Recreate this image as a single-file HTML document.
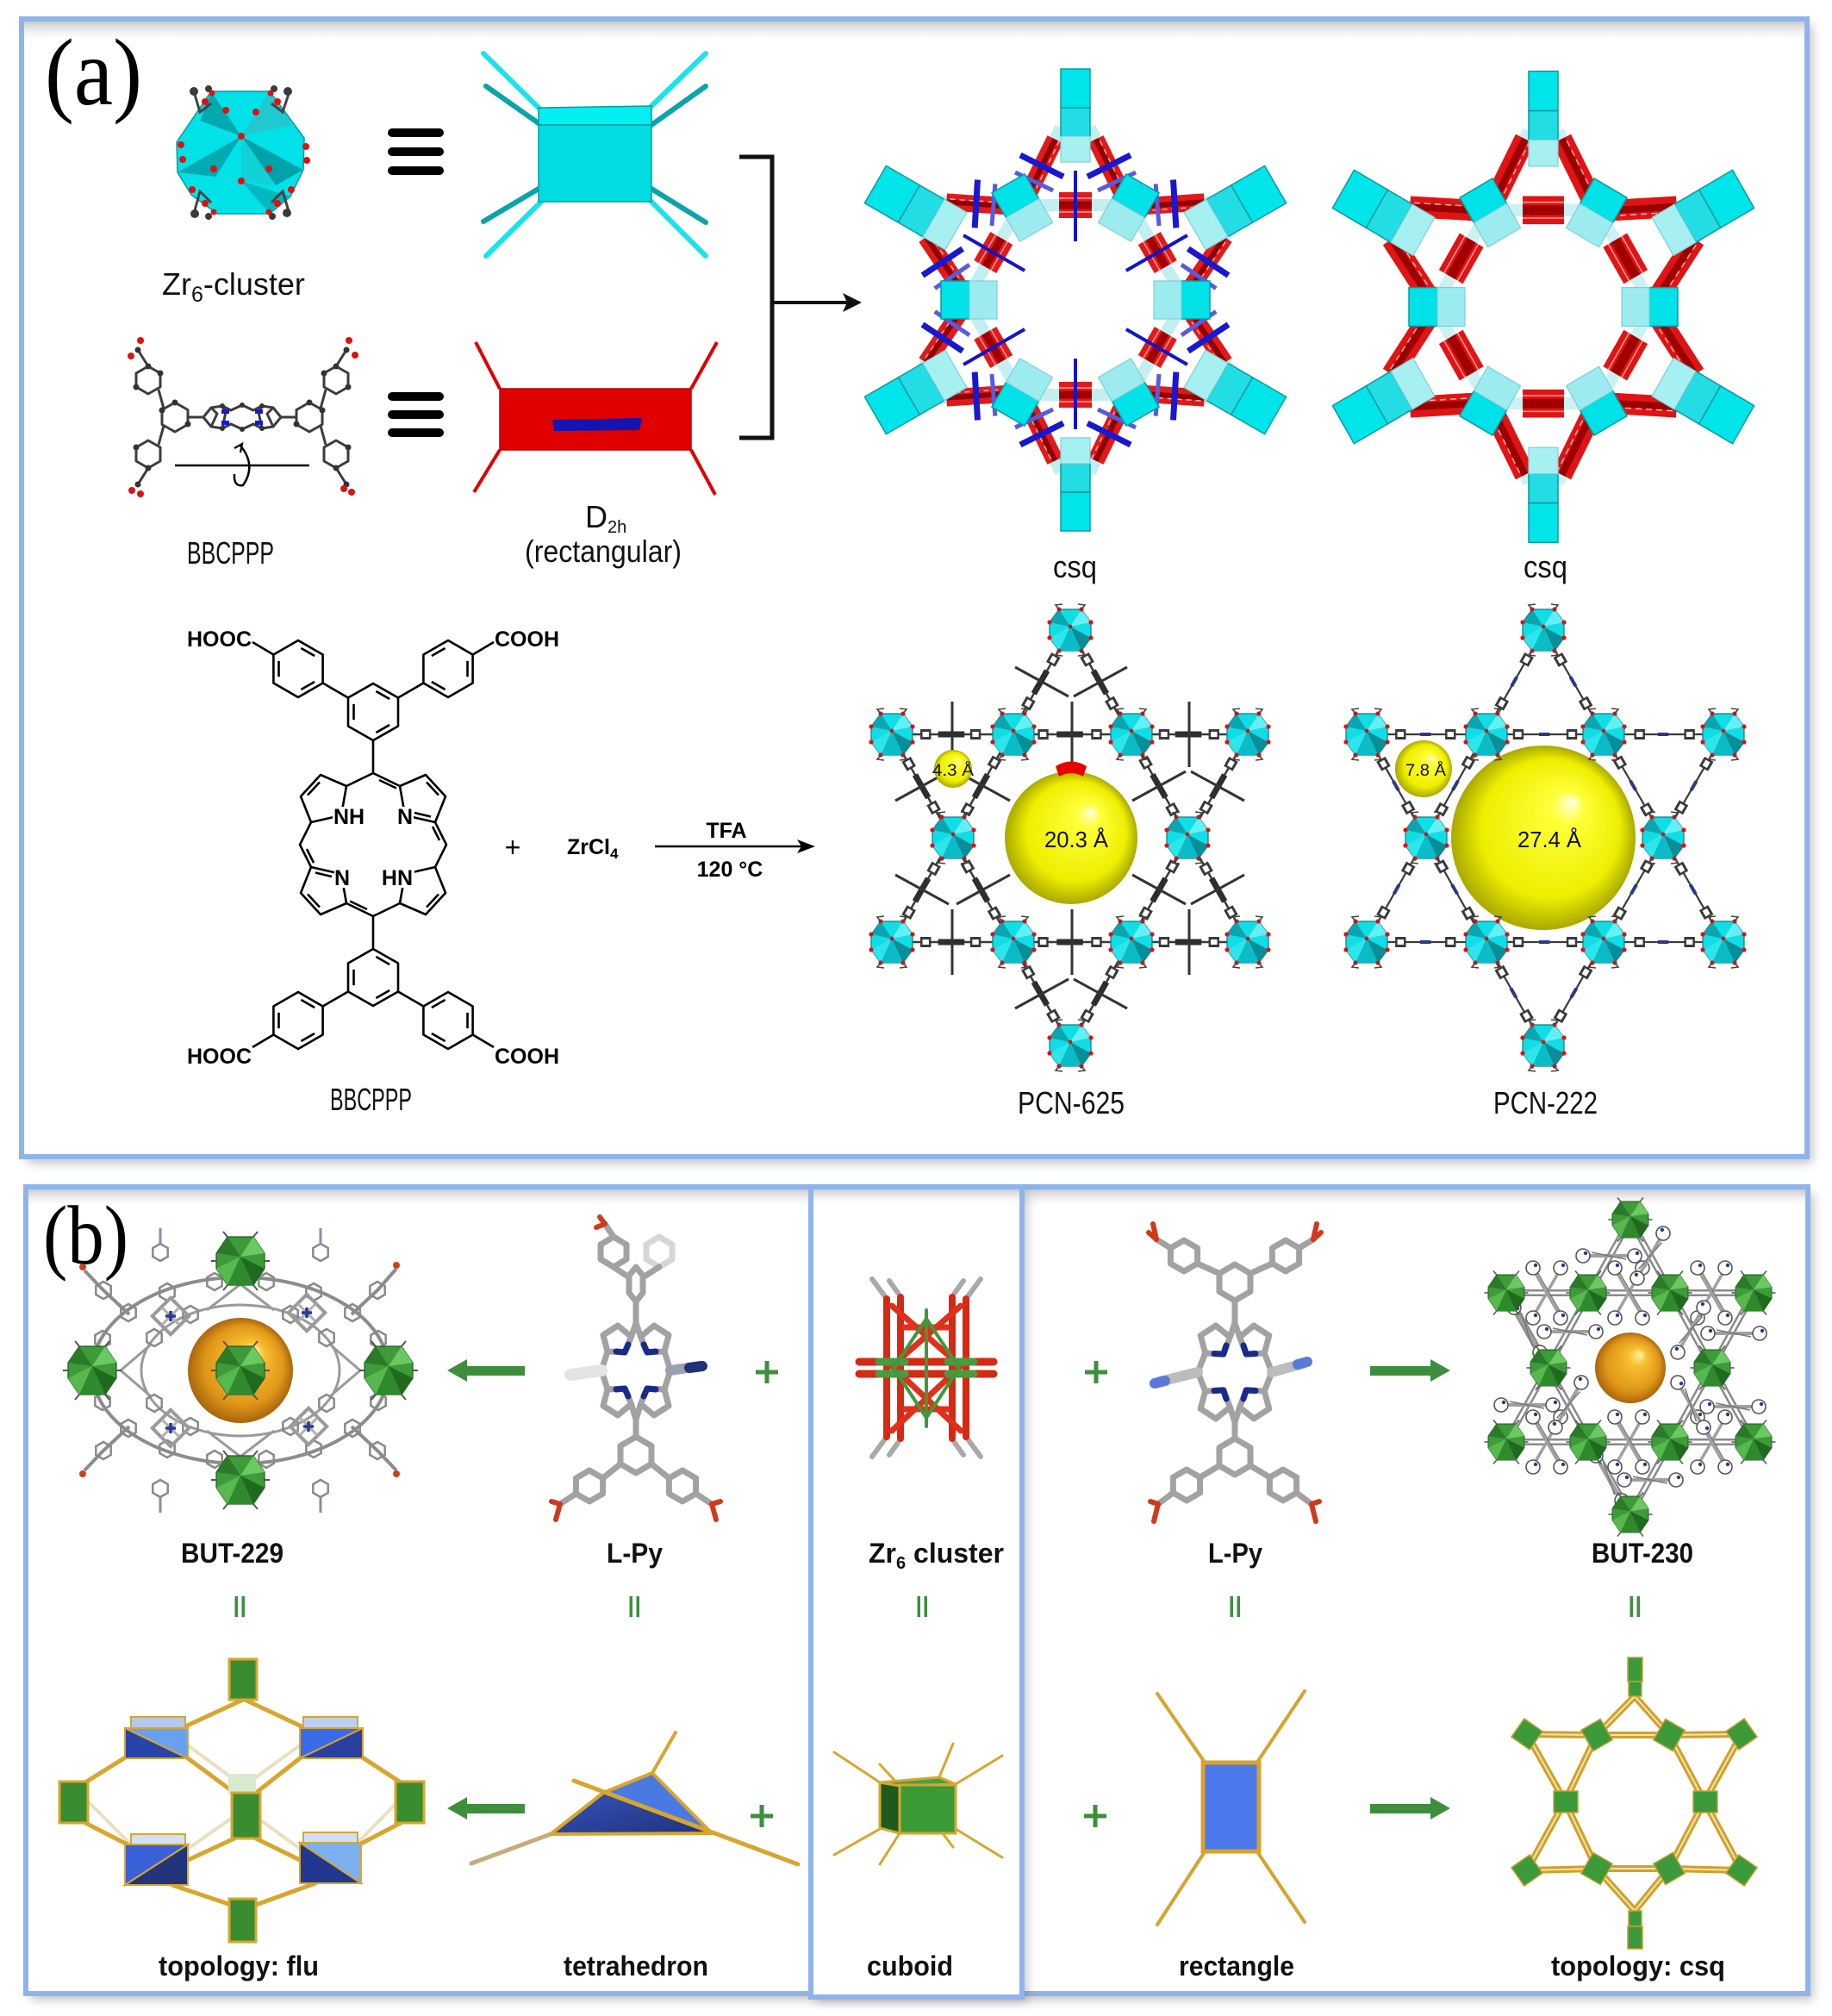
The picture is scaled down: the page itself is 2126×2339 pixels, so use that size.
<!DOCTYPE html>
<html><head><meta charset="utf-8">
<style>
html,body{margin:0;padding:0;background:#fff;}
svg{display:block;}
text{font-family:"Liberation Sans","DejaVu Sans",sans-serif;}
.serif{font-family:"Liberation Serif","DejaVu Serif",serif;}
.lb{font-weight:bold;font-size:32px;fill:#111;}
.ch{font-weight:bold;font-size:25px;fill:#000;}
.hw{font-size:36px;fill:#111;}
</style></head><body>
<svg xmlns="http://www.w3.org/2000/svg" width="2126" height="2339" viewBox="0 0 2126 2339">
<defs>
 <filter id="blur" x="-5%" y="-5%" width="110%" height="110%"><feGaussianBlur stdDeviation="6"/></filter>
 <linearGradient id="topsh" x1="0" y1="0" x2="0" y2="1"><stop offset="0" stop-color="#c9c9c9"/><stop offset="1" stop-color="#ffffff" stop-opacity="0"/></linearGradient>
 <radialGradient id="ysph" cx="0.5" cy="0.5" r="0.5" fx="0.66" fy="0.3"><stop offset="0" stop-color="#ffffe6"/><stop offset="0.18" stop-color="#ffff3a"/><stop offset="0.75" stop-color="#eeee00"/><stop offset="1" stop-color="#a9a900"/></radialGradient>
 <radialGradient id="osph" cx="0.5" cy="0.5" r="0.5" fx="0.64" fy="0.3"><stop offset="0" stop-color="#fff3b0"/><stop offset="0.25" stop-color="#f8bf30"/><stop offset="0.75" stop-color="#e09618"/><stop offset="1" stop-color="#a9660c"/></radialGradient>
 <linearGradient id="tdark" x1="0" y1="0" x2="1" y2="1"><stop offset="0" stop-color="#3454b8"/><stop offset="1" stop-color="#22307e"/></linearGradient>

 <g id="zrc">
  <polygon points="-13,-24 13,-24 24,-9 24,9 13,24 -13,24 -24,9 -24,-9" fill="#12dce4" stroke="#0b7f88" stroke-width="1.2"/>
  <polygon points="-13,-24 0,-4 -24,-9" fill="#0aa5b0"/>
  <polygon points="13,-24 24,-9 0,-4" fill="#62f0f4"/>
  <polygon points="0,-4 24,9 13,24" fill="#078e98"/>
  <polygon points="0,-4 -13,24 -24,9" fill="#2ce6ec"/>
  <polygon points="0,-4 13,24 -13,24" fill="#0bbcc6"/>
  <g fill="#e01010"><circle cx="-13" cy="-24" r="2.6"/><circle cx="13" cy="-24" r="2.6"/><circle cx="24" cy="-9" r="2.6"/><circle cx="24" cy="9" r="2.6"/><circle cx="13" cy="24" r="2.6"/><circle cx="-13" cy="24" r="2.6"/><circle cx="-24" cy="9" r="2.6"/><circle cx="-24" cy="-9" r="2.6"/><circle cx="0" cy="-4" r="2.4"/></g>
  <path d="M-13,-24 L-17,-29 L-9,-30 M13,-24 L17,-29 L9,-30 M-13,24 L-17,29 L-9,30 M13,24 L17,29 L9,30" stroke="#444" stroke-width="1.6" fill="none"/>
 </g>

 <g id="gcl">
  <polygon points="-15,-28 15,-28 28,-9 28,9 15,28 -15,28 -28,9 -28,-9" fill="#3d9b3a" stroke="#1e5a1e" stroke-width="1.2"/>
  <polygon points="-15,-28 0,-5 -28,-9" fill="#2a7a28"/>
  <polygon points="15,-28 28,-9 0,-5" fill="#6cc860"/>
  <polygon points="0,-5 28,9 15,28" fill="#1f6a1f"/>
  <polygon points="0,-5 -15,28 -28,9" fill="#58b850"/>
  <polygon points="0,-5 15,28 -15,28" fill="#2f8a2d"/>
  <path d="M-15,-28 L-20,-34 M15,-28 L20,-34 M-15,28 L-20,34 M15,28 L20,34 M-28,0 L-34,0 M28,0 L34,0" stroke="#555" stroke-width="2"/>
 </g>

 <path id="hx" d="M0,-10 L8.7,-5 L8.7,5 L0,10 L-8.7,5 L-8.7,-5 Z" fill="none" stroke="#8a8a8a" stroke-width="2.5"/>
 <path id="hxs" d="M0,-8 L7,-4 L7,4 L0,8 L-7,4 L-7,-4 Z" fill="#fff" stroke="#666" stroke-width="1.6"/>
 <g id="rg"><circle r="8" fill="#fff" stroke="#555" stroke-width="1.6"/><circle cx="3" cy="-3" r="2.2" fill="#2a3a8a"/></g>
 <g id="xh"><path d="M-26,0 L26,0" stroke="#a0a0a0" stroke-width="4"/><path d="M-20,-4 L20,4" stroke="#777" stroke-width="1.5"/><use href="#rg" x="-30" y="0"/><use href="#rg" x="30" y="0"/></g>
 <g id="xx"><path d="M-15,-26 L15,26 M15,-26 L-15,26" stroke="#a0a0a0" stroke-width="3.5"/><path d="M-12,-26 L18,26" stroke="#777" stroke-width="1.3"/><use href="#rg" x="-16" y="-29"/><use href="#rg" x="16" y="-29"/><use href="#rg" x="-16" y="29"/><use href="#rg" x="16" y="29"/></g>

 <g id="triA">
  <path d="M-17,-200 L-61,-112 M17,-200 L61,-112 M-61,-110 L61,-110" stroke="#55d0d8" stroke-width="14" stroke-opacity="0.35" fill="none"/>
  <path d="M-23.6,-186.5 L-54.4,-123.5 M23.6,-186.5 L54.4,-123.5" stroke="#e01a1a" stroke-width="20" fill="none"/>
  <path d="M-23.6,-186.5 L-54.4,-123.5 M23.6,-186.5 L54.4,-123.5" stroke="#8e0000" stroke-width="6" fill="none"/>
  <path d="M-23.6,-186.5 L-54.4,-123.5 M23.6,-186.5 L54.4,-123.5" stroke="#ffb0b0" stroke-width="1.5" stroke-dasharray="6 5" fill="none" transform="translate(5,2)"/>
  <path d="M-19,-110 L19,-110" stroke="#e01a1a" stroke-width="30"/>
  <path d="M-19,-110 L19,-110" stroke="#a00000" stroke-width="9"/>
  <path d="M-19,-118 L19,-118 M-19,-102 L19,-102" stroke="#ff9a9a" stroke-width="1.5"/>
  <path d="M0,-150 L0,-68" stroke="#1414c8" stroke-width="4"/>
  <path d="M-64,-168 L-14,-143 M64,-168 L14,-143" stroke="#1818d0" stroke-width="7"/>
  <path d="M-70,-148 L-26,-127 M70,-148 L26,-127" stroke="#5a5ae0" stroke-width="5"/>
 </g>
 <g id="triB">
  <path d="M-17,-200 L-61,-112 M17,-200 L61,-112 M-61,-110 L61,-110" stroke="#55d0d8" stroke-width="14" stroke-opacity="0.3" fill="none"/>
  <path d="M-21.4,-191 L-56.6,-121 M21.4,-191 L56.6,-121" stroke="#e01414" stroke-width="24" fill="none"/>
  <path d="M-21.4,-191 L-56.6,-121 M21.4,-191 L56.6,-121" stroke="#9a0000" stroke-width="8" fill="none"/>
  <path d="M-21.4,-191 L-56.6,-121 M21.4,-191 L56.6,-121" stroke="#ffb0b0" stroke-width="1.5" stroke-dasharray="7 5" fill="none" transform="translate(6,2)"/>
  <path d="M-24,-110 L24,-110" stroke="#e01414" stroke-width="32"/>
  <path d="M-24,-110 L24,-110" stroke="#a00000" stroke-width="11"/>
  <path d="M-24,-119 L24,-119 M-24,-101 L24,-101" stroke="#ff9a9a" stroke-width="1.5"/>
 </g>
 <g id="nO">
  <rect x="-17" y="-268" width="34" height="45" fill="#00e5ea" stroke="#0a9aa0" stroke-width="1.5"/>
  <rect x="-17" y="-223" width="34" height="33" fill="#22dde3" stroke="#0a9aa0" stroke-width="1.5"/>
  <rect x="-17" y="-190" width="34" height="30" fill="#a6f0f2" stroke="#7cd0d4" stroke-width="1.2"/>
 </g>
 <g id="nW">
  <rect x="-25" y="-268" width="50" height="45" fill="#00e5ea" stroke="#0a9aa0" stroke-width="1.5"/>
  <rect x="-25" y="-223" width="50" height="33" fill="#22dde3" stroke="#0a9aa0" stroke-width="1.5"/>
  <rect x="-25" y="-190" width="50" height="30" fill="#a6f0f2" stroke="#7cd0d4" stroke-width="1.2"/>
 </g>
 <g id="nI">
  <rect x="-22" y="-156" width="44" height="33" fill="#00e2e8" stroke="#0a9aa0" stroke-width="1.5"/>
  <rect x="-22" y="-123" width="44" height="32" fill="#9cecef" stroke="#7cd0d4" stroke-width="1.2"/>
 </g>
 <g id="por">
  <rect x="-15" y="-15" width="30" height="30" transform="rotate(45)" fill="none" stroke="#9a9a9a" stroke-width="4"/>
  <path d="M-10,-10 L10,10 M10,-10 L-10,10" stroke="#b0b0b0" stroke-width="3"/>
  <path d="M-6,0 L6,0 M0,-6 L0,6" stroke="#2a3a9a" stroke-width="3.5"/>
 </g>
</defs>

<!-- ================= FRAMES ================= -->
<rect x="31" y="29" width="2072" height="1320" fill="#000" opacity="0.25" filter="url(#blur)"/>
<rect x="25" y="22" width="2072" height="1320" fill="#fff" stroke="#8fb4ec" stroke-width="6"/>
<rect x="28" y="25" width="2066" height="24" fill="url(#topsh)"/>

<rect x="36" y="1384" width="2068" height="936" fill="#000" opacity="0.25" filter="url(#blur)"/>
<rect x="30" y="1377" width="2068" height="936" fill="#fff" stroke="#8fb4ec" stroke-width="6"/>
<rect x="33" y="1380" width="2062" height="22" fill="url(#topsh)"/>

<rect x="947" y="1383" width="245" height="940" fill="#000" opacity="0.22" filter="url(#blur)"/>
<rect x="941" y="1377" width="245" height="940" fill="#fff" stroke="#8fb4ec" stroke-width="6"/>
<rect x="944" y="1380" width="239" height="20" fill="url(#topsh)"/>

<!-- ================= PANEL (a) ================= -->
<text class="serif" x="52" y="121" font-size="110" textLength="113" lengthAdjust="spacingAndGlyphs" fill="#000">(a)</text>

<!-- Zr6 cluster icon -->
<g>
 <polygon points="245,106 313,106 353,160 352,197 337,228 313,248 252,248 222,226 206,200 205,165" fill="#00e2e8" stroke="#0a9aa0" stroke-width="1.5"/>
 <polygon points="245,106 280,158 232,140" fill="#00a8b0"/>
 <polygon points="313,106 340,145 280,158" fill="#20c8d0"/>
 <polygon points="280,158 352,197 320,215" fill="#00a2aa"/>
 <polygon points="280,158 250,205 206,200" fill="#00aab2"/>
 <polygon points="280,210 313,248 337,228" fill="#00b8c0"/>
 <polygon points="280,158 280,210 320,215" fill="#10d0d8"/>
 <path d="M225,106 L232,130 L245,120 M336,106 L328,130 L315,120 M225,248 L232,222 L245,235 M336,248 L328,222 L315,235" stroke="#444" stroke-width="3" fill="none"/>
 <g fill="#3a3a3a"><circle cx="225" cy="106" r="5"/><circle cx="242" cy="103" r="4"/><circle cx="318" cy="103" r="4"/><circle cx="334" cy="106" r="5"/><circle cx="226" cy="248" r="5"/><circle cx="242" cy="251" r="4"/><circle cx="316" cy="251" r="4"/><circle cx="333" cy="247" r="5"/></g>
 <g fill="#e01010"><circle cx="262" cy="128" r="4"/><circle cx="297" cy="130" r="4"/><circle cx="280" cy="158" r="4"/><circle cx="248" cy="196" r="4"/><circle cx="312" cy="196" r="4"/><circle cx="280" cy="210" r="4"/><circle cx="210" cy="168" r="4"/><circle cx="212" cy="185" r="4"/><circle cx="355" cy="170" r="4"/><circle cx="356" cy="186" r="4"/><circle cx="238" cy="118" r="4"/><circle cx="322" cy="118" r="4"/><circle cx="238" cy="236" r="4"/><circle cx="322" cy="236" r="4"/><circle cx="223" cy="220" r="4"/><circle cx="338" cy="220" r="4"/><circle cx="246" cy="108" r="3.5"/><circle cx="314" cy="108" r="3.5"/><circle cx="248" cy="246" r="3.5"/><circle cx="312" cy="246" r="3.5"/></g>
</g>
<text class="hw" x="188" y="342" font-size="38">Zr<tspan font-size="25" dy="8">6</tspan><tspan dy="-8">-cluster</tspan></text>

<!-- equivalence bars -->
<path d="M455,154 L510,154 M455,176 L510,176 M455,198 L510,198 M455,460 L510,460 M455,481 L510,481 M455,502 L510,502" stroke="#000" stroke-width="10" stroke-linecap="round"/>

<!-- cyan cuboid -->
<g stroke-linecap="round">
 <path d="M625,125 L561,62 M756,123 L819,62 M628,234 L564,297 M756,234 L819,297" stroke="#18e4ea" stroke-width="6"/>
 <path d="M625,143 L564,100 M756,145 L819,100 M625,219 L561,257 M756,219 L819,258" stroke="#0aa4aa" stroke-width="6"/>
 <polygon points="625,125 756,123 756,145 625,145" fill="#00f0f2" stroke="#079a9f" stroke-width="1.5"/>
 <rect x="625" y="145" width="131" height="89" fill="#00dde2" stroke="#079a9f" stroke-width="1.5"/>
</g>

<!-- red rectangle D2h -->
<path d="M580,451 L552,397 M802,451 L832,397 M580,522 L550,571 M802,522 L830,574" stroke="#e00000" stroke-width="4"/>
<rect x="580" y="451" width="222" height="71" fill="#e00000" stroke="#b80000" stroke-width="1.5"/>
<polygon points="641,487 745,485 742,499 643,500" fill="#1414b0"/>

<!-- small BBCPPP 3D molecule -->
<g stroke="#3c3c3c" stroke-width="3" fill="none" stroke-linejoin="round">
 <path d="M203,467 L218,475.5 L218,492.5 L203,501 L188,492.5 L188,475.5 Z"/>
 <path d="M172,425 L186,433 L186,449 L172,457 L158,449 L158,433 Z"/>
 <path d="M190,474 L184,452 M172,425 L160,406"/>
 <path d="M172,511 L186,519 L186,535 L172,543 L158,535 L158,519 Z"/>
 <path d="M190,494 L184,516 M172,543 L160,562"/>
 <path d="M218,484 L236,484"/>
 <path d="M236,484 L245,473 L258,471 L268,476 L281,470 L294,476 L304,471 L317,473 L326,484 L317,495 L304,497 L294,492 L281,498 L268,492 L258,497 L245,495 Z"/>
 <path d="M245,473 L252,480 L245,495 M317,473 L310,480 L317,495 M258,471 L262,478 L258,497 M304,471 L300,478 L304,497"/>
 <path d="M359,467 L374,475.5 L374,492.5 L359,501 L344,492.5 L344,475.5 Z"/>
 <path d="M390,425 L404,433 L404,449 L390,457 L376,449 L376,433 Z"/>
 <path d="M372,474 L378,452 M390,425 L402,406"/>
 <path d="M390,511 L404,519 L404,535 L390,543 L376,535 L376,519 Z"/>
 <path d="M372,494 L378,516 M390,543 L402,562"/>
 <path d="M344,484 L326,484"/>
</g>
<g fill="#333"><circle cx="203" cy="467" r="3.5"/><circle cx="218" cy="492" r="3.5"/><circle cx="188" cy="476" r="3.5"/><circle cx="172" cy="425" r="3.5"/><circle cx="158" cy="449" r="3.5"/><circle cx="186" cy="433" r="3.5"/><circle cx="172" cy="543" r="3.5"/><circle cx="158" cy="519" r="3.5"/><circle cx="359" cy="467" r="3.5"/><circle cx="344" cy="492" r="3.5"/><circle cx="374" cy="476" r="3.5"/><circle cx="390" cy="425" r="3.5"/><circle cx="404" cy="449" r="3.5"/><circle cx="376" cy="433" r="3.5"/><circle cx="390" cy="543" r="3.5"/><circle cx="404" cy="519" r="3.5"/><circle cx="160" cy="406" r="3.5"/><circle cx="402" cy="406" r="3.5"/><circle cx="160" cy="562" r="3.5"/><circle cx="402" cy="562" r="3.5"/><circle cx="258" cy="471" r="3"/><circle cx="304" cy="471" r="3"/><circle cx="258" cy="497" r="3"/><circle cx="304" cy="497" r="3"/><circle cx="281" cy="470" r="3"/><circle cx="281" cy="498" r="3"/></g>
<g fill="#e01010"><circle cx="163" cy="395" r="4"/><circle cx="152" cy="413" r="4"/><circle cx="153" cy="569" r="4"/><circle cx="163" cy="573" r="4"/><circle cx="405" cy="395" r="4"/><circle cx="412" cy="412" r="4"/><circle cx="408" cy="571" r="4"/><circle cx="399" cy="567" r="4"/></g>
<g fill="#1818d8"><rect x="257" y="475" width="9" height="5"/><rect x="257" y="488" width="9" height="5"/><rect x="296" y="475" width="9" height="5"/><rect x="296" y="488" width="9" height="5"/></g>
<path d="M203,540 L359,540" stroke="#000" stroke-width="2.5"/>
<path d="M279,517 Q298,540 282,563 Q271,565 272,550" stroke="#000" stroke-width="2.5" fill="none"/>
<path d="M272,520 L281,515 L279,525" stroke="#000" stroke-width="2.2" fill="none"/>
<text class="hw" x="217" y="654" font-size="34" textLength="101" lengthAdjust="spacingAndGlyphs">BBCPPP</text>
<text class="hw" x="679" y="612" font-size="33">D<tspan font-size="20" dy="6">2h</tspan></text>
<text class="hw" x="609" y="652" font-size="34" textLength="182" lengthAdjust="spacingAndGlyphs">(rectangular)</text>

<!-- bracket & arrow -->
<path d="M858,182 L896,182 L896,508 L858,508" stroke="#111" stroke-width="5" fill="none"/>
<path d="M896,351 L985,351" stroke="#111" stroke-width="4"/>
<polygon points="1000,351 978,340 983,351 978,362" fill="#111"/>

<!-- csq framework left -->
<g transform="translate(1248,348)">
 <use href="#triA"/><use href="#triA" transform="rotate(60)"/><use href="#triA" transform="rotate(120)"/><use href="#triA" transform="rotate(180)"/><use href="#triA" transform="rotate(240)"/><use href="#triA" transform="rotate(300)"/>
 <use href="#nO"/><use href="#nO" transform="rotate(180)"/>
 <use href="#nW" transform="rotate(60)"/><use href="#nW" transform="rotate(120)"/><use href="#nW" transform="rotate(240)"/><use href="#nW" transform="rotate(300)"/>
 <use href="#nI" transform="rotate(30)"/><use href="#nI" transform="rotate(90)"/><use href="#nI" transform="rotate(150)"/><use href="#nI" transform="rotate(210)"/><use href="#nI" transform="rotate(270)"/><use href="#nI" transform="rotate(330)"/>
</g>
<!-- csq framework right -->
<g transform="translate(1791,356) scale(1,1.02)">
 <use href="#triB"/><use href="#triB" transform="rotate(60)"/><use href="#triB" transform="rotate(120)"/><use href="#triB" transform="rotate(180)"/><use href="#triB" transform="rotate(240)"/><use href="#triB" transform="rotate(300)"/>
 <use href="#nO"/><use href="#nO" transform="rotate(180)"/>
 <use href="#nW" transform="rotate(60)"/><use href="#nW" transform="rotate(120)"/><use href="#nW" transform="rotate(240)"/><use href="#nW" transform="rotate(300)"/>
 <use href="#nI" transform="rotate(30)"/><use href="#nI" transform="rotate(90)"/><use href="#nI" transform="rotate(150)"/><use href="#nI" transform="rotate(210)"/><use href="#nI" transform="rotate(270)"/><use href="#nI" transform="rotate(330)"/>
</g>
<text class="hw" x="1222" y="670" font-size="36" textLength="51" lengthAdjust="spacingAndGlyphs">csq</text>
<text class="hw" x="1768" y="670" font-size="36" textLength="51" lengthAdjust="spacingAndGlyphs">csq</text>

<!-- BBCPPP chemical structure -->
<g stroke="#000" stroke-width="2.6" fill="none" stroke-linejoin="round">
 <path d="M433,793 L462,809.5 L462,842.5 L433,859 L404,842.5 L404,809.5 Z"/>
 <path d="M374.6,792.5 L374.6,759.5 L346,743 L317.4,759.5 L317.4,792.5 L346,809 Z"/>
 <path d="M491.4,792.5 L491.4,759.5 L520,743 L548.6,759.5 L548.6,792.5 L520,809 Z"/>
 <path d="M433,1167 L462,1150.5 L462,1117.5 L433,1101 L404,1117.5 L404,1150.5 Z"/>
 <path d="M374.6,1167.5 L374.6,1200.5 L346,1217 L317.4,1200.5 L317.4,1167.5 L346,1151 Z"/>
 <path d="M491.4,1167.5 L491.4,1200.5 L520,1217 L548.6,1200.5 L548.6,1167.5 L520,1151 Z"/>
 <path d="M404,809.5 L374.6,792.5 M462,809.5 L491.4,792.5 M433,859 L433,897 M317.4,759.5 L293,745 M548.6,759.5 L573,745"/>
 <path d="M404,1150.5 L374.6,1167.5 M462,1150.5 L491.4,1167.5 M433,1101 L433,1063 M317.4,1200.5 L293,1215 M548.6,1200.5 L573,1215"/>
 <path d="M433,800 L455.5,813 L455.5,839 L433,852 L410.5,839 L410.5,813 Z" pathLength="6" stroke-dasharray="0.7 1.3" stroke-dashoffset="1.85"/>
 <path d="M368.5,763 L346,750 L323.5,763 L323.5,789 L346,802 L368.5,789 Z" pathLength="6" stroke-dasharray="0.7 1.3" stroke-dashoffset="1.85"/>
 <path d="M497.5,763 L520,750 L542.5,763 L542.5,789 L520,802 L497.5,789 Z" pathLength="6" stroke-dasharray="0.7 1.3" stroke-dashoffset="1.85"/>
 <path d="M433,1160 L455.5,1147 L455.5,1121 L433,1108 L410.5,1121 L410.5,1147 Z" pathLength="6" stroke-dasharray="0.7 1.3" stroke-dashoffset="1.85"/>
 <path d="M368.5,1197 L346,1210 L323.5,1197 L323.5,1171 L346,1158 L368.5,1171 Z" pathLength="6" stroke-dasharray="0.7 1.3" stroke-dashoffset="1.85"/>
 <path d="M497.5,1197 L520,1210 L542.5,1197 L542.5,1171 L520,1158 L497.5,1171 Z" pathLength="6" stroke-dasharray="0.7 1.3" stroke-dashoffset="1.85"/>
 <path d="M433,897 L402,912 L372,899 L349,924 L361,954 L348,980 L361,1006 L349,1036 L372,1061 L402,1048 L433,1063 L464,1048 L494,1061 L517,1036 L505,1006 L518,980 L505,954 L517,924 L494,899 L464,912 Z"/>
 <path d="M402,912 L396,946 L361,954 M464,912 L470,946 L505,954 M402,1048 L396,1014 L361,1006 M464,1048 L470,1014 L505,1006"/>
 <path d="M371,907.5 L357,922.5 M495,907.5 L509,922.5 M371,1052.5 L357,1037.5 M495,1052.5 L509,1037.5 M440,905 L460,914.5 M356,985 L364,1001 M510,975 L502,959 M426,1055 L406,1045.5 M481,943 L500,947.5 M385,1017 L366,1012.5"/>
</g>
<g fill="#fff"><rect x="386" y="936" width="39" height="22"/><rect x="461" y="936" width="19" height="22"/><rect x="388" y="1008" width="19" height="22"/><rect x="439" y="1008" width="42" height="22"/></g>
<text class="ch" x="387" y="956" font-size="24">NH</text>
<text class="ch" x="470" y="956" font-size="24" text-anchor="middle">N</text>
<text class="ch" x="397" y="1027" font-size="24" text-anchor="middle">N</text>
<text class="ch" x="479" y="1027" font-size="24" text-anchor="end">HN</text>
<text class="ch" x="292" y="750" text-anchor="end">HOOC</text>
<text class="ch" x="574" y="750">COOH</text>
<text class="ch" x="292" y="1234" text-anchor="end">HOOC</text>
<text class="ch" x="574" y="1234">COOH</text>
<text class="hw" x="383" y="1288" font-size="33" textLength="95" lengthAdjust="spacingAndGlyphs">BBCPPP</text>

<!-- reaction -->
<text x="595" y="994" font-size="32" text-anchor="middle" fill="#000">+</text>
<text class="ch" x="658" y="991">ZrCl<tspan font-size="17" dy="5">4</tspan></text>
<path d="M760,982 L930,982" stroke="#000" stroke-width="2.5"/>
<polygon points="946,982 925,974 930,982 925,990" fill="#000"/>
<text class="ch" x="843" y="972" text-anchor="middle">TFA</text>
<text class="ch" x="847" y="1017" text-anchor="middle" font-size="26">120 °C</text>

<!-- PCN-625 -->
<g fill="none">
 <path d="M1242,731 L1035,1093 L1448,1093 Z M1035,852 L1448,852 L1242,1213 Z" stroke="#3a3a3a" stroke-width="2.5"/>
 <g stroke="#3a3a3a" stroke-width="12" stroke-dasharray="0 8 3 11 3 16 3 12 3 16 3 11 3 100">
  <path pathLength="100" d="M1242,731 L1035,1093"/><path pathLength="100" d="M1242,731 L1448,1093"/><path pathLength="100" d="M1035,1093 L1448,1093"/>
  <path pathLength="100" d="M1035,852 L1448,852"/><path pathLength="100" d="M1035,852 L1242,1213"/><path pathLength="100" d="M1448,852 L1242,1213"/>
 </g>
 <g stroke="#fff" stroke-width="6" stroke-dasharray="0 8.6 1.8 12.2 1.8 17.2 1.8 13.2 1.8 17.2 1.8 12.2 1.8 100">
  <path pathLength="100" d="M1242,731 L1035,1093"/><path pathLength="100" d="M1242,731 L1448,1093"/><path pathLength="100" d="M1035,1093 L1448,1093"/>
  <path pathLength="100" d="M1035,852 L1448,852"/><path pathLength="100" d="M1035,852 L1242,1213"/><path pathLength="100" d="M1448,852 L1242,1213"/>
 </g>
 <g stroke="#2e2e2e" stroke-width="7" stroke-dasharray="0 13 7.4 25.9 7.4 25.9 7.4 100">
  <path pathLength="100" d="M1242,731 L1035,1093"/><path pathLength="100" d="M1242,731 L1448,1093"/><path pathLength="100" d="M1035,1093 L1448,1093"/>
  <path pathLength="100" d="M1035,852 L1448,852"/><path pathLength="100" d="M1035,852 L1242,1213"/><path pathLength="100" d="M1448,852 L1242,1213"/>
 </g>
 <path d="M1105,814 L1105,890 M1244,814 L1244,890 M1380,814 L1380,890 M1105,1055 L1105,1131 M1244,1055 L1244,1131 M1380,1055 L1380,1131 M1178,774 L1240,808 M1110,895 L1172,929 M1039,1015 L1101,1049 M1382,895 L1444,929 M1314,1015 L1376,1049 M1246,1136 L1308,1170 M1246,808 L1308,774 M1314,929 L1376,895 M1382,1049 L1444,1015 M1039,929 L1101,895 M1110,1049 L1172,1015 M1178,1170 L1240,1136" stroke="#333" stroke-width="3"/>
</g>
<circle cx="1106" cy="892" r="22" fill="url(#ysph)"/>
<circle cx="1243" cy="972" r="77" fill="url(#ysph)"/>
<path d="M1225,889 Q1243,878 1261,889 L1257,901 Q1243,893 1229,901 Z" fill="#e80000"/>
<g>
 <use href="#zrc" x="1242" y="731"/><use href="#zrc" x="1242" y="1213"/>
 <use href="#zrc" x="1035" y="852"/><use href="#zrc" x="1176" y="852"/><use href="#zrc" x="1313" y="852"/><use href="#zrc" x="1448" y="852"/>
 <use href="#zrc" x="1035" y="1093"/><use href="#zrc" x="1176" y="1093"/><use href="#zrc" x="1313" y="1093"/><use href="#zrc" x="1448" y="1093"/>
 <use href="#zrc" x="1106" y="972"/><use href="#zrc" x="1378" y="972"/>
</g>
<text x="1082" y="900" font-size="19" textLength="48" lengthAdjust="spacingAndGlyphs" fill="#111">4.3 Å</text>
<text x="1212" y="983" font-size="26" textLength="74" lengthAdjust="spacingAndGlyphs" fill="#111">20.3 Å</text>

<!-- PCN-222 -->
<g fill="none">
 <path d="M1791,731 L1586,1093 L2000,1093 Z M1586,852 L2000,852 L1791,1213 Z" stroke="#3a3a3a" stroke-width="2.2"/>
 <g stroke="#3a3a3a" stroke-width="12" stroke-dasharray="0 8 3 11 3 16 3 12 3 16 3 11 3 100">
  <path pathLength="100" d="M1791,731 L1586,1093"/><path pathLength="100" d="M1791,731 L2000,1093"/><path pathLength="100" d="M1586,1093 L2000,1093"/>
  <path pathLength="100" d="M1586,852 L2000,852"/><path pathLength="100" d="M1586,852 L1791,1213"/><path pathLength="100" d="M2000,852 L1791,1213"/>
 </g>
 <g stroke="#fff" stroke-width="6" stroke-dasharray="0 8.6 1.8 12.2 1.8 17.2 1.8 13.2 1.8 17.2 1.8 12.2 1.8 100">
  <path pathLength="100" d="M1791,731 L1586,1093"/><path pathLength="100" d="M1791,731 L2000,1093"/><path pathLength="100" d="M1586,1093 L2000,1093"/>
  <path pathLength="100" d="M1586,852 L2000,852"/><path pathLength="100" d="M1586,852 L1791,1213"/><path pathLength="100" d="M2000,852 L1791,1213"/>
 </g>
 <g stroke="#2a3a8a" stroke-width="4" stroke-dasharray="0 15 3 30.3 3 30.3 3 100">
  <path pathLength="100" d="M1791,731 L1586,1093"/><path pathLength="100" d="M1791,731 L2000,1093"/><path pathLength="100" d="M1586,1093 L2000,1093"/>
  <path pathLength="100" d="M1586,852 L2000,852"/><path pathLength="100" d="M1586,852 L1791,1213"/><path pathLength="100" d="M2000,852 L1791,1213"/>
 </g>
</g>
<circle cx="1652" cy="892" r="33" fill="url(#ysph)"/>
<circle cx="1791" cy="972" r="107" fill="url(#ysph)"/>
<g>
 <use href="#zrc" x="1791" y="731"/><use href="#zrc" x="1791" y="1213"/>
 <use href="#zrc" x="1586" y="852"/><use href="#zrc" x="1725" y="852"/><use href="#zrc" x="1861" y="852"/><use href="#zrc" x="2000" y="852"/>
 <use href="#zrc" x="1586" y="1093"/><use href="#zrc" x="1725" y="1093"/><use href="#zrc" x="1861" y="1093"/><use href="#zrc" x="2000" y="1093"/>
 <use href="#zrc" x="1655" y="972"/><use href="#zrc" x="1930" y="972"/>
</g>
<text x="1631" y="900" font-size="19" textLength="47" lengthAdjust="spacingAndGlyphs" fill="#111">7.8 Å</text>
<text x="1761" y="983" font-size="26" textLength="74" lengthAdjust="spacingAndGlyphs" fill="#111">27.4 Å</text>

<text class="hw" x="1181" y="1292" font-size="32" textLength="124" lengthAdjust="spacingAndGlyphs">PCN-625</text>
<text class="hw" x="1733" y="1292" font-size="32" textLength="121" lengthAdjust="spacingAndGlyphs">PCN-222</text>

<!-- ================= PANEL (b) ================= -->
<text class="serif" x="50" y="1466" font-size="98" textLength="99" lengthAdjust="spacingAndGlyphs" fill="#000">(b)</text>

<!-- BUT-229 -->
<g>
 <ellipse cx="279" cy="1590" rx="172" ry="108" fill="none" stroke="#8c8c8c" stroke-width="4"/>
 <ellipse cx="279" cy="1590" rx="115" ry="76" fill="none" stroke="#9a9a9a" stroke-width="3"/>
 <path d="M150,1525 L120,1497 L98,1474 M408,1525 L438,1497 L460,1472 M150,1655 L120,1683 L98,1706 M408,1655 L438,1683 L460,1706" stroke="#8c8c8c" stroke-width="4" fill="none"/>
 <path d="M279,1490 L240,1520 M279,1490 L318,1520 M279,1690 L240,1660 M279,1690 L318,1660 M140,1590 L175,1560 M140,1590 L175,1620 M418,1590 L383,1560 M418,1590 L383,1620" stroke="#9a9a9a" stroke-width="3" fill="none"/>
 <g>
  <use href="#hx" x="439" y="1626"/><use href="#hx" x="409" y="1657"/><use href="#hx" x="364" y="1681"/><use href="#hx" x="309" y="1693"/><use href="#hx" x="249" y="1693"/><use href="#hx" x="194" y="1681"/><use href="#hx" x="149" y="1657"/><use href="#hx" x="119" y="1626"/>
  <use href="#hx" x="119" y="1554"/><use href="#hx" x="149" y="1523"/><use href="#hx" x="194" y="1499"/><use href="#hx" x="249" y="1487"/><use href="#hx" x="309" y="1487"/><use href="#hx" x="364" y="1499"/><use href="#hx" x="409" y="1523"/><use href="#hx" x="439" y="1554"/>
  <use href="#hx" x="379" y="1628"/><use href="#hx" x="337" y="1655"/><use href="#hx" x="221" y="1655"/><use href="#hx" x="179" y="1628"/><use href="#hx" x="179" y="1552"/><use href="#hx" x="221" y="1525"/><use href="#hx" x="337" y="1525"/><use href="#hx" x="379" y="1552"/>
  <use href="#hx" x="120" y="1497"/><use href="#hx" x="438" y="1497"/><use href="#hx" x="120" y="1683"/><use href="#hx" x="438" y="1683"/>
  <use href="#hx" x="186" y="1453"/><use href="#hx" x="372" y="1453"/><use href="#hx" x="186" y="1727"/><use href="#hx" x="372" y="1727"/>
 </g>
 <path d="M186,1443 L186,1425 M372,1443 L372,1425 M186,1737 L186,1755 M372,1737 L372,1755" stroke="#8a8aaa" stroke-width="3"/>
 <use href="#por" x="198" y="1527"/><use href="#por" x="356" y="1523"/><use href="#por" x="198" y="1657"/><use href="#por" x="358" y="1655"/>
 <g fill="#d0401a"><circle cx="96" cy="1470" r="4"/><circle cx="460" cy="1468" r="4"/><circle cx="96" cy="1710" r="4"/><circle cx="460" cy="1710" r="4"/></g>
 <circle cx="279" cy="1590" r="61" fill="url(#osph)"/>
 <use href="#gcl" x="279" y="1463"/><use href="#gcl" x="279" y="1717"/><use href="#gcl" x="107" y="1590"/><use href="#gcl" x="451" y="1590"/><use href="#gcl" x="279" y="1590"/>
</g>

<!-- green arrows / plus / equals -->
<g fill="#3e8e3e">
 <polygon points="519,1590 542,1577 542,1585 609,1585 609,1596 542,1596 542,1603"/>
 <polygon points="519,2098 542,2085 542,2093 609,2093 609,2104 542,2104 542,2111"/>
 <polygon points="1683,1590 1660,1577 1660,1585 1590,1585 1590,1596 1660,1596 1660,1603"/>
 <polygon points="1683,2098 1660,2085 1660,2093 1590,2093 1590,2104 1660,2104 1660,2111"/>
 <rect x="272.5" y="1852" width="3.5" height="24"/><rect x="280.5" y="1852" width="3.5" height="24"/>
 <rect x="730.5" y="1852" width="3.5" height="24"/><rect x="738.5" y="1852" width="3.5" height="24"/>
 <rect x="1064.5" y="1852" width="3.5" height="24"/><rect x="1072.5" y="1852" width="3.5" height="24"/>
 <rect x="1427.5" y="1852" width="3.5" height="24"/><rect x="1435.5" y="1852" width="3.5" height="24"/>
 <rect x="1891.5" y="1852" width="3.5" height="24"/><rect x="1899.5" y="1852" width="3.5" height="24"/>
</g>
<path d="M877,1592 L903,1592 M890,1579 L890,1605 M1259,1592 L1285,1592 M1272,1579 L1272,1605 M871,2107 L897,2107 M884,2094 L884,2120 M1258,2107 L1284,2107 M1271,2094 L1271,2120" stroke="#3e8e3e" stroke-width="5"/>

<!-- L-Py left -->
<g stroke="#a2a2a2" stroke-width="7" fill="none" stroke-linejoin="round" stroke-linecap="round">
 <path d="M712,1435 L727,1444 L727,1461 L712,1470 L697,1461 L697,1444 Z"/>
 <path d="M765,1435 L780,1444 L780,1461 L765,1470 L750,1461 L750,1444 Z" stroke="#d6d6d6"/>
 <path d="M738,1470 L746,1480 L746,1500 L738,1510 L730,1500 L730,1480 Z"/>
 <path d="M712,1470 L730,1482 M765,1470 L746,1482 M712,1435 L702,1420 M738,1510 L738,1535"/>
 <path d="M725,1569 L705,1568 L700,1549 L717,1538 L732.5,1551 Z M751,1569 L771,1568 L776,1549 L759,1538 L743.5,1551 Z M725,1611 L705,1612 L700,1631 L717,1642 L732.5,1629 Z M751,1611 L771,1612 L776,1631 L759,1642 L743.5,1629 Z"/>
 <path d="M738,1535 L732.5,1551 M738,1535 L743.5,1551 M698,1590 L705,1568 M698,1590 L705,1612 M778,1590 L771,1568 M778,1590 L771,1612 M738,1647 L732.5,1629 M738,1647 L743.5,1629"/>
 <path d="M738,1647 L738,1667"/>
 <path d="M738,1667 L756,1677.5 L756,1698.5 L738,1709 L720,1698.5 L720,1677.5 Z"/>
 <path d="M684,1706 L699.6,1715 L699.6,1733 L684,1742 L668.4,1733 L668.4,1715 Z M792,1706 L807.6,1715 L807.6,1733 L792,1742 L776.4,1733 L776.4,1715 Z"/>
 <path d="M720,1698.5 L699.6,1715 M756,1698.5 L776.4,1715 M668.4,1733 L650,1745 M807.6,1733 L826,1745"/>
 <path d="M698,1590 L662,1595" stroke="#e4e4e4" stroke-width="14"/>
 <path d="M778,1590 L812,1585" stroke="#9aa0b0" stroke-width="12"/>
</g>
<path d="M800,1587 L815,1585" stroke="#22307a" stroke-width="12" stroke-linecap="round"/>
<g stroke="#1a2a8a" stroke-width="7" stroke-linecap="round"><path d="M725,1569 L715,1568 M725,1569 L729,1560 M751,1569 L761,1568 M751,1569 L747,1560 M725,1611 L715,1612 M725,1611 L729,1620 M751,1611 L761,1612 M751,1611 L747,1620"/></g>
<path d="M702,1420 L696,1412 M702,1420 L692,1424 M650,1745 L640,1742 M650,1745 L645,1763 M826,1745 L836,1742 M826,1745 L831,1763" stroke="#d03a1a" stroke-width="6" stroke-linecap="round"/>

<!-- Zr6 cluster (b) -->
<g stroke-linecap="round" fill="none">
 <path d="M1029,1507 L1012,1484 M1121,1507 L1138,1484 M1029,1667 L1012,1690 M1121,1667 L1138,1690 M1042,1500 L1032,1486 M1108,1500 L1118,1486 M1042,1674 L1032,1688 M1108,1674 L1118,1688" stroke="#a9a9a9" stroke-width="6"/>
 <path d="M1029,1507 L1029,1667 M1121,1507 L1121,1667 M1045,1505 L1045,1669 M1105,1505 L1105,1669" stroke="#d42a14" stroke-width="8"/>
 <path d="M1035,1515 L1115,1585 L1035,1660 M1115,1515 L1035,1585 L1115,1660 M1050,1540 L1100,1540 M1050,1635 L1100,1635" stroke="#e0301a" stroke-width="7"/>
 <path d="M997,1580 L1153,1580 M997,1594 L1153,1594" stroke="#d42a14" stroke-width="9"/>
 <path d="M1020,1580 L1050,1580 M1100,1580 L1130,1580 M1020,1594 L1050,1594 M1100,1594 L1130,1594" stroke="#4a9a40" stroke-width="9"/>
 <path d="M1075,1530 L1037,1587 L1075,1645 L1113,1587 Z M1075,1520 L1075,1655" stroke="#3c9a3a" stroke-width="4"/>
</g>

<!-- L-Py right -->
<g stroke="#a2a2a2" stroke-width="7" fill="none" stroke-linejoin="round" stroke-linecap="round">
 <path d="M1433,1467 L1451,1477.5 L1451,1498.5 L1433,1509 L1415,1498.5 L1415,1477.5 Z"/>
 <path d="M1374,1439 L1389.6,1448 L1389.6,1466 L1374,1475 L1358.4,1466 L1358.4,1448 Z M1492,1439 L1507.6,1448 L1507.6,1466 L1492,1475 L1476.4,1466 L1476.4,1448 Z"/>
 <path d="M1415,1477.5 L1389.6,1466 M1451,1477.5 L1476.4,1466 M1358.4,1448 L1342,1438 M1507.6,1448 L1524,1438 M1433,1509 L1433,1535"/>
 <path d="M1419.8,1571.1 L1398.7,1570 L1393.2,1549.5 L1410.9,1538 L1427.4,1551.3 Z M1446.2,1571.1 L1467.3,1570 L1472.8,1549.5 L1455.1,1538 L1438.6,1551.3 Z M1419.8,1612.9 L1398.7,1614 L1393.2,1634.5 L1410.9,1646 L1427.4,1632.7 Z M1446.2,1612.9 L1467.3,1614 L1472.8,1634.5 L1455.1,1646 L1438.6,1632.7 Z"/>
 <path d="M1433,1535 L1427.4,1551.3 M1433,1535 L1438.6,1551.3 M1390,1592 L1398.7,1570 M1390,1592 L1398.7,1614 M1476,1592 L1467.3,1570 M1476,1592 L1467.3,1614 M1433,1650 L1427.4,1632.7 M1433,1650 L1438.6,1632.7"/>
 <path d="M1433,1650 L1433,1669"/>
 <path d="M1433,1669 L1451,1679.5 L1451,1700.5 L1433,1711 L1415,1700.5 L1415,1679.5 Z"/>
 <path d="M1377,1705 L1392.6,1714 L1392.6,1732 L1377,1741 L1361.4,1732 L1361.4,1714 Z M1489,1705 L1504.6,1714 L1504.6,1732 L1489,1741 L1473.4,1732 L1473.4,1714 Z"/>
 <path d="M1415,1700.5 L1392.6,1714 M1451,1700.5 L1473.4,1714 M1361.4,1732 L1344,1745 M1504.6,1732 L1522,1745"/>
 <path d="M1390,1592 L1346,1603" stroke="#bcbcbc" stroke-width="12"/>
 <path d="M1476,1592 L1512,1582" stroke="#bcbcbc" stroke-width="12"/>
</g>
<path d="M1340,1605 L1352,1602 M1506,1583 L1517,1580" stroke="#5a7ad8" stroke-width="12" stroke-linecap="round"/>
<g stroke="#1a2a8a" stroke-width="7" stroke-linecap="round"><path d="M1419.8,1571.1 L1409,1570.5 M1419.8,1571.1 L1423,1561 M1446.2,1571.1 L1457,1570.5 M1446.2,1571.1 L1443,1561 M1419.8,1612.9 L1409,1613.5 M1419.8,1612.9 L1423,1623 M1446.2,1612.9 L1457,1613.5 M1446.2,1612.9 L1443,1623"/></g>
<path d="M1342,1438 L1333,1430 M1342,1438 L1338,1420 M1524,1438 L1533,1430 M1524,1438 L1528,1420 M1344,1745 L1335,1742 M1344,1745 L1339,1765 M1522,1745 L1531,1742 M1522,1745 L1527,1765" stroke="#d03a1a" stroke-width="6" stroke-linecap="round"/>

<!-- BUT-230 -->
<g fill="none">
 <path d="M1892,1415 L1748,1673 L2035,1673 Z M1748,1500 L2035,1500 L1892,1757 Z" stroke="#8a8a8a" stroke-width="8"/>
 <path d="M1892,1415 L1748,1673 L2035,1673 Z M1748,1500 L2035,1500 L1892,1757 Z" stroke="#fff" stroke-width="3"/>
 <use href="#xx" x="1795" y="1500"/><use href="#xx" x="1890" y="1500"/><use href="#xx" x="1986" y="1500"/>
 <use href="#xx" x="1795" y="1673"/><use href="#xx" x="1890" y="1673"/><use href="#xx" x="1986" y="1673"/>
 <use href="#xh" transform="translate(1867,1457)"/>
 <use href="#xh" transform="translate(1915,1457) rotate(-60)"/>
 <use href="#xh" transform="translate(1822,1545)"/>
 <use href="#xh" transform="translate(1962,1543) rotate(-60)"/>
 <use href="#xh" transform="translate(1772,1543) rotate(60)"/>
 <use href="#xh" transform="translate(2012,1547)"/>
 <use href="#xh" transform="translate(1772,1630)"/>
 <use href="#xh" transform="translate(1820,1630) rotate(-60)"/>
 <use href="#xh" transform="translate(1962,1630) rotate(60)"/>
 <use href="#xh" transform="translate(2011,1632)"/>
 <use href="#xh" transform="translate(1867,1715) rotate(60)"/>
 <use href="#xh" transform="translate(1915,1717)"/>
 <circle cx="1892" cy="1587" r="41" fill="url(#osph)"/>
 <g transform="translate(1892,1415) scale(0.75)"><use href="#gcl"/></g>
 <g transform="translate(1892,1757) scale(0.75)"><use href="#gcl"/></g>
 <g transform="translate(1748,1500) scale(0.75)"><use href="#gcl"/></g>
 <g transform="translate(1843,1500) scale(0.75)"><use href="#gcl"/></g>
 <g transform="translate(1938,1500) scale(0.75)"><use href="#gcl"/></g>
 <g transform="translate(2035,1500) scale(0.75)"><use href="#gcl"/></g>
 <g transform="translate(1748,1673) scale(0.75)"><use href="#gcl"/></g>
 <g transform="translate(1843,1673) scale(0.75)"><use href="#gcl"/></g>
 <g transform="translate(1938,1673) scale(0.75)"><use href="#gcl"/></g>
 <g transform="translate(2035,1673) scale(0.75)"><use href="#gcl"/></g>
 <g transform="translate(1797,1587) scale(0.75)"><use href="#gcl"/></g>
 <g transform="translate(1987,1587) scale(0.75)"><use href="#gcl"/></g>
</g>

<!-- labels b top -->
<text class="lb" x="210" y="1813" textLength="119" lengthAdjust="spacingAndGlyphs">BUT-229</text>
<text class="lb" x="704" y="1813" textLength="65" lengthAdjust="spacingAndGlyphs">L-Py</text>
<text class="lb" x="1008" y="1813" font-size="30">Zr<tspan font-size="20" dy="7">6</tspan><tspan dy="-7"> cluster</tspan></text>
<text class="lb" x="1402" y="1813" textLength="63" lengthAdjust="spacingAndGlyphs">L-Py</text>
<text class="lb" x="1847" y="1813" textLength="118" lengthAdjust="spacingAndGlyphs">BUT-230</text>

<!-- topology flu -->
<g fill="none" stroke-linecap="round">
 <path d="M218,2025 L268,2062 M348,2025 L297,2062 M102,2090 L150,2138 M462,2090 L415,2138 M268,2110 L218,2145 M300,2110 L348,2145" stroke="#eadfbf" stroke-width="4"/>
 <path d="M282,1972 L215,2003 M284,1972 L350,2003 M147,2038 L99,2068 M218,2040 L272,2080 M348,2040 L297,2080 M419,2038 L465,2068 M99,2115 L148,2140 M465,2115 L417,2140 M272,2133 L218,2158 M297,2133 L348,2158 M200,2187 L268,2210 M366,2185 L297,2210" stroke="#d8a62e" stroke-width="5"/>
</g>
<rect x="265" y="2058" width="32" height="24" fill="#d8ead0"/>
<g stroke="#d8a62e" stroke-width="2">
 <rect x="152" y="1992" width="63" height="13" fill="#b8c8e8"/>
 <polygon points="145,2005 218,2040 145,2040" fill="#2844a8"/>
 <polygon points="145,2005 218,2005 218,2040" fill="#6aa0f0"/>
 <rect x="352" y="1992" width="63" height="13" fill="#c0d0ea"/>
 <polygon points="348,2005 421,2005 348,2040" fill="#3a6ae8"/>
 <polygon points="421,2005 421,2040 348,2040" fill="#2a40a0"/>
 <rect x="152" y="2128" width="63" height="12" fill="#cfe0f8"/>
 <polygon points="145,2140 218,2140 145,2187" fill="#3a60d8"/>
 <polygon points="218,2140 218,2187 145,2187" fill="#22347a"/>
 <rect x="352" y="2126" width="63" height="12" fill="#cfe0f8"/>
 <polygon points="348,2138 419,2138 419,2185" fill="#7ab0f0"/>
 <polygon points="348,2138 419,2185 348,2185" fill="#203890"/>
</g>
<g fill="#3a8c30" stroke="#d8a62e" stroke-width="3">
 <rect x="266" y="1925" width="32" height="47"/>
 <rect x="269" y="2080" width="33" height="53"/>
 <rect x="266" y="2203" width="31" height="50"/>
 <rect x="69" y="2067" width="33" height="48"/>
 <rect x="459" y="2067" width="33" height="48"/>
</g>

<!-- tetrahedron -->
<polygon points="700,2080 826,2127 639,2128" fill="url(#tdark)"/>
<polygon points="700,2080 757,2057 826,2127" fill="#4a7ae0"/>
<g stroke-linecap="round" fill="none">
 <path d="M639,2128 L547,2162" stroke="#c4ad7c" stroke-width="5"/>
 <path d="M757,2057 L784,2010" stroke="#d8a62e" stroke-width="4"/>
 <path d="M757,2057 L700,2080 M757,2057 L826,2127 M639,2128 L826,2127 M639,2128 L700,2080" stroke="#d8a62e" stroke-width="4"/>
 <path d="M666,2066 L926,2163" stroke="#d8a62e" stroke-width="5"/>
</g>

<!-- cuboid -->
<g stroke="#d8a62e" stroke-width="3" stroke-linecap="round">
 <path d="M1021,2068 L968,2033 M1044,2072 L1021,2047 M1090,2062 L1106,2023 M1109,2070 L1163,2037 M1021,2122 L968,2152 M1044,2127 L1021,2163 M1094,2127 L1106,2143 M1109,2122 L1163,2155"/>
 <polygon points="1021,2068 1044,2072 1109,2070 1090,2062" fill="#4aa040"/>
 <polygon points="1021,2068 1044,2072 1044,2127 1021,2121" fill="#1e5a1e"/>
 <rect x="1044" y="2071" width="65" height="56" fill="#3a9a36"/>
</g>

<!-- rectangle -->
<path d="M1399,2046 L1343,1965 M1458,2046 L1514,1962 M1399,2147 L1343,2233 M1458,2147 L1514,2230" stroke="#d7a32c" stroke-width="4" stroke-linecap="round"/>
<rect x="1396" y="2045" width="65" height="103" fill="#4b78ea" stroke="#d7a32c" stroke-width="5"/>

<!-- topology csq -->
<g fill="none" stroke-linecap="round">
 <path d="M1897,1968 L1853,2013 M1897,1968 L1937,2013 M1853,2013 L1937,2013 M1772,2012 L1853,2013 M1772,2012 L1816,2090 M1853,2013 L1816,2090 M2021,2012 L1937,2013 M2021,2012 L1978,2090 M1937,2013 L1978,2090 M1772,2170 L1853,2168 M1772,2170 L1816,2090 M1853,2168 L1816,2090 M2021,2170 L1937,2168 M2021,2170 L1978,2090 M1937,2168 L1978,2090 M1853,2168 L1937,2168 M1897,2217 L1853,2168 M1897,2217 L1937,2168" stroke="#d2a02a" stroke-width="8"/>
 <path d="M1897,1968 L1853,2013 M1897,1968 L1937,2013 M1853,2013 L1937,2013 M1772,2012 L1853,2013 M1772,2012 L1816,2090 M1853,2013 L1816,2090 M2021,2012 L1937,2013 M2021,2012 L1978,2090 M1937,2013 L1978,2090 M1772,2170 L1853,2168 M1772,2170 L1816,2090 M1853,2168 L1816,2090 M2021,2170 L1937,2168 M2021,2170 L1978,2090 M1937,2168 L1978,2090 M1853,2168 L1937,2168 M1897,2217 L1853,2168 M1897,2217 L1937,2168" stroke="#f5e6b0" stroke-width="2"/>
</g>
<g fill="#3c9a3a" stroke="#c9a030" stroke-width="1.5">
 <rect x="1889" y="1923" width="17" height="28"/><rect x="1890" y="1951" width="15" height="17"/>
 <rect x="1890" y="2217" width="15" height="18"/><rect x="1889" y="2235" width="17" height="26"/>
 <rect x="1803" y="2078" width="28" height="25"/><rect x="1965" y="2078" width="28" height="25"/>
 <rect x="-13" y="-13" width="26" height="26" transform="translate(1772,2012) rotate(35)"/>
 <rect x="-13" y="-13" width="26" height="26" transform="translate(2021,2012) rotate(-35)"/>
 <rect x="-13" y="-13" width="26" height="26" transform="translate(1772,2170) rotate(-35)"/>
 <rect x="-13" y="-13" width="26" height="26" transform="translate(2021,2170) rotate(35)"/>
 <rect x="-13" y="-14" width="26" height="28" transform="translate(1853,2013) rotate(-30)"/>
 <rect x="-13" y="-14" width="26" height="28" transform="translate(1937,2013) rotate(30)"/>
 <rect x="-13" y="-14" width="26" height="28" transform="translate(1853,2168) rotate(30)"/>
 <rect x="-13" y="-14" width="26" height="28" transform="translate(1937,2168) rotate(-30)"/>
</g>

<!-- labels b bottom -->
<text class="lb" x="184" y="2292" textLength="186" lengthAdjust="spacingAndGlyphs">topology: flu</text>
<text class="lb" x="654" y="2292" textLength="168" lengthAdjust="spacingAndGlyphs">tetrahedron</text>
<text class="lb" x="1006" y="2292" textLength="100" lengthAdjust="spacingAndGlyphs">cuboid</text>
<text class="lb" x="1368" y="2292" textLength="134" lengthAdjust="spacingAndGlyphs">rectangle</text>
<text class="lb" x="1800" y="2292" textLength="202" lengthAdjust="spacingAndGlyphs">topology: csq</text>
</svg>
</body></html>
